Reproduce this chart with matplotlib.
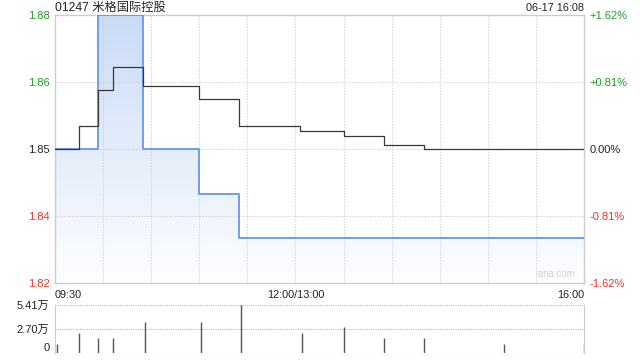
import matplotlib
matplotlib.use("Agg")
import matplotlib.pyplot as plt
import numpy as np
from matplotlib.patches import Polygon

FAM = ['Liberation Sans', 'Noto Sans CJK SC', 'DejaVu Sans']
plt.rcParams['font.family'] = FAM

title = "01247 米格国际控股"
stamp = "06-17 16:08"
prev_close = 1.85

price_times = ["09:30", "09:57", "10:25", "11:00", "11:25", "16:00"]
price_vals = [1.85, 1.88, 1.85, 1.84, 1.83, 1.83]

avg_times = ["09:30", "09:45", "09:57", "10:06", "10:25", "11:00", "11:25",
             "13:03", "13:30", "13:55", "14:20", "16:00"]
avg_vals = [1.85, 1.8552, 1.8633, 1.8683, 1.8642, 1.8613, 1.8552,
            1.8541, 1.8529, 1.8509, 1.8501, 1.8501]

vol_times = ["09:31", "09:45", "09:57", "10:06", "10:26", "11:01", "11:26",
             "13:04", "13:30", "13:55", "14:20", "15:10", "16:00"]
vol_vals = [10000, 22500, 17000, 17000, 35000, 35000, 54100,
            22500, 29500, 17000, 17000, 10000, 10000]

price_ticks = [1.82, 1.835, 1.85, 1.865, 1.88]
price_labels = ["1.82", "1.84", "1.85", "1.86", "1.88"]
pct_labels = ["-1.62%", "-0.81%", "0.00%", "+0.81%", "+1.62%"]
tick_colors = ["#f03030", "#f03030", "#222222", "#1ca01c", "#1ca01c"]
vol_ticks = [0, 27050, 54100]
vol_labels = ["0", "2.70万", "5.41万"]
x_labels = ["09:30", "12:00/13:00", "16:00"]


def tmin(s):
    h, m = map(int, s.split(":"))
    v = h * 60 + m - (9 * 60 + 30)
    if h >= 13:
        v -= 60
    return v


px = np.array([tmin(t) for t in price_times], dtype=float)
py = np.array(price_vals)
ax_ = np.array([tmin(t) for t in avg_times], dtype=float)
ay = np.array(avg_vals)
vx = np.array([tmin(t) for t in vol_times], dtype=float)
vy = np.array(vol_vals)

fig = plt.figure(figsize=(6.4, 3.6), dpi=100)
ax = fig.add_axes([55 / 640, 1 - 283 / 360, 529 / 640, 268 / 360])
ymin, ymax = 1.82, 1.88
ax.set_xlim(0, 330)
ax.set_ylim(ymin, ymax)

# step path for fill
sx, sy = [], []
for i in range(len(px)):
    if i > 0:
        sx.append(px[i]); sy.append(py[i - 1])
    sx.append(px[i]); sy.append(py[i])
verts = [(sx[0], ymin)] + list(zip(sx, sy)) + [(sx[-1], ymin)]
poly = Polygon(verts, closed=True, facecolor='none', edgecolor='none')
ax.add_patch(poly)
top_c = np.array([0.79, 0.86, 0.97])
bot_c = np.array([0.995, 0.997, 1.0])
grad = np.linspace(0, 1, 256)[:, None]
img = top_c[None, None, :] * (1 - grad[..., None]) + bot_c[None, None, :] * grad[..., None]
img = np.repeat(img, 2, axis=1)
im = ax.imshow(img, extent=[0, 330, ymin, ymax], aspect='auto', zorder=1,
               origin='upper', interpolation='bilinear')
im.set_clip_path(poly)

ax.step(px, py, where='post', color='#6397ee', lw=1.3, zorder=3)
ax.step(ax_, ay, where='post', color='#383838', lw=0.9, zorder=4)

for x in range(30, 330, 30):
    ax.axvline(x, color='#cccccc', lw=0.8, ls=(0, (1, 1.5)), zorder=2)
for y in price_ticks[1:-1]:
    ax.axhline(y, color='#cccccc', lw=0.8, ls=(0, (1, 1.5)), zorder=2)

for s in ax.spines.values():
    s.set_color('#cccccc')
    s.set_linewidth(1.0)
ax.set_yticks(price_ticks)
ax.set_yticklabels(price_labels)
for lab, c in zip(ax.get_yticklabels(), tick_colors):
    lab.set_color(c)
ax.tick_params(axis='y', length=0, labelsize=8, pad=4)
ax.set_xticks([])

ax2 = ax.twinx()
ax2.set_ylim(ymin, ymax)
ax2.set_yticks(price_ticks)
ax2.set_yticklabels(pct_labels)
for lab, c in zip(ax2.get_yticklabels(), tick_colors):
    lab.set_color(c)
ax2.tick_params(axis='y', length=0, labelsize=8, pad=4)
for s in ax2.spines.values():
    s.set_visible(False)

fig.text(55 / 640, 1 - 8 / 360, title, fontsize=8.8, color='#222222',
         ha='left', va='center', family=FAM)
fig.text(584 / 640, 1 - 8 / 360, stamp, fontsize=7.8, color='#222222',
         ha='right', va='center')
ax.text(0.985, 0.015, "sina.com", transform=ax.transAxes, fontsize=7,
        color='#d0d0d0', ha='right', va='bottom')

# x labels
fig.text(55 / 640, 1 - 295 / 360, x_labels[0], fontsize=7.8, color='#222222', ha='left', va='center')
fig.text(296 / 640, 1 - 295 / 360, x_labels[1], fontsize=7.8, color='#222222', ha='center', va='center')
fig.text(584 / 640, 1 - 295 / 360, x_labels[2], fontsize=7.8, color='#222222', ha='right', va='center')

# volume
axv = fig.add_axes([55 / 640, 1 - 353 / 360, 529 / 640, 48 / 360])
axv.set_xlim(0, 330)
axv.set_ylim(0, 54100)
axv.vlines(vx, 0, vy, color='#555555', lw=1.0, zorder=3)
for y in vol_ticks:
    axv.axhline(y, color='#bbbbbb', lw=0.8, ls=(0, (1, 1)), zorder=1)
axv.spines['top'].set_visible(False)
axv.spines['bottom'].set_visible(False)
axv.spines['left'].set_color('#cccccc')
axv.spines['right'].set_color('#cccccc')
axv.set_xticks([])
axv.set_yticks(vol_ticks)
axv.set_yticklabels(vol_labels)
axv.tick_params(axis='y', length=0, labelsize=8, pad=4, colors='#222222')
for lab in axv.get_yticklabels():
    lab.set_family(FAM)
axv.get_yticklabels()[0].set_va('bottom')

fig.savefig("out.png", dpi=100)
